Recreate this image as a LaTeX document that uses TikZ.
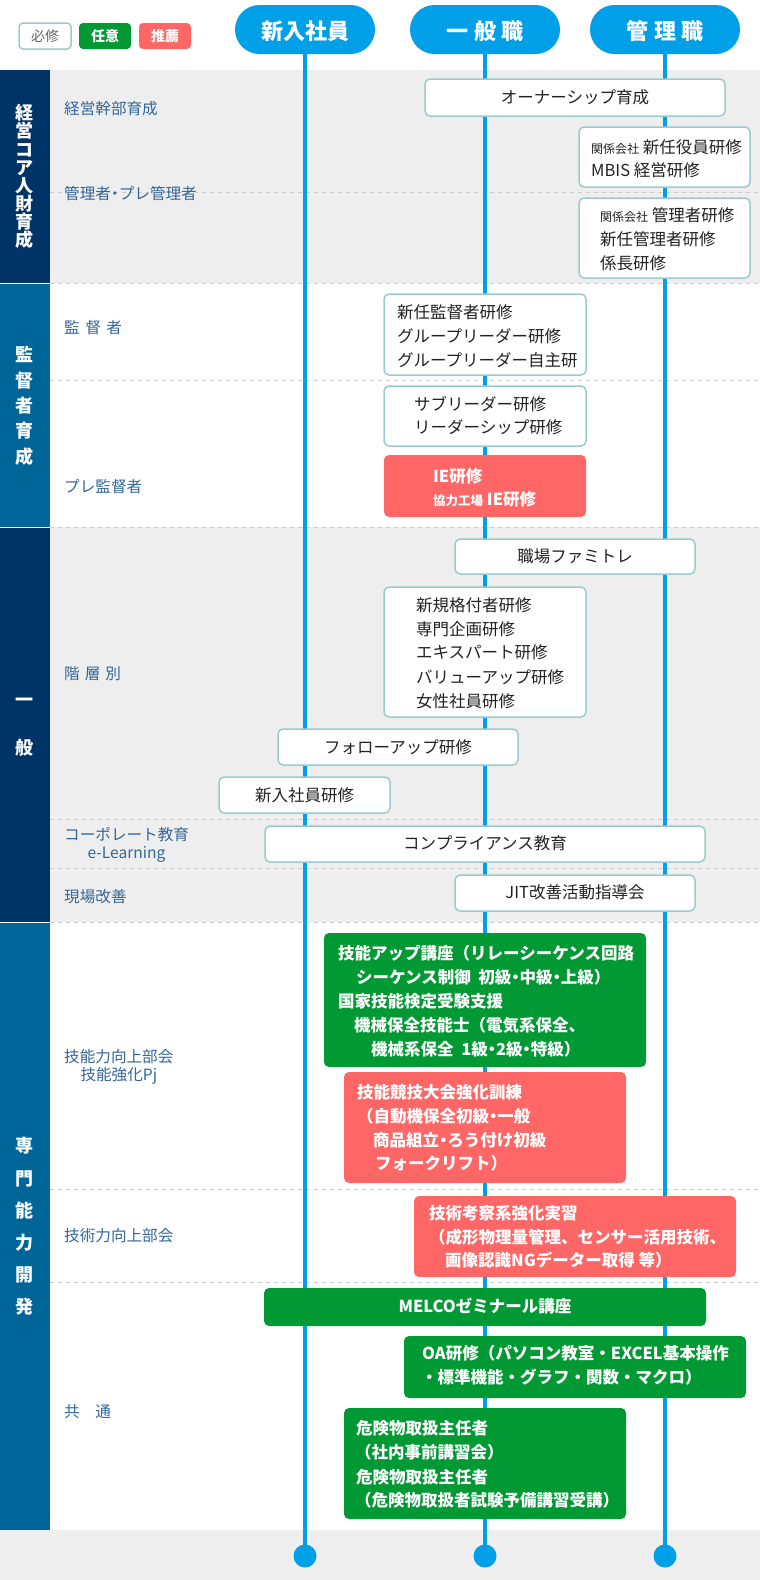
\documentclass[tikz,border=0pt]{standalone}
\usepackage{fontspec}
\setmainfont{Noto Sans CJK JP}
\definecolor{linec}{HTML}{00A0E9}
\definecolor{navyc}{HTML}{003366}
\definecolor{midc}{HTML}{006699}
\definecolor{bgc}{HTML}{EEEEEE}
\definecolor{bordc}{HTML}{99CCCC}
\definecolor{grn}{HTML}{009933}
\definecolor{redc}{HTML}{FF6666}
\definecolor{lblc}{HTML}{336699}
\definecolor{dashc}{HTML}{CCCCCC}
\definecolor{txtc}{HTML}{222222}
\definecolor{legtx}{HTML}{666666}
\newcommand\bx[6]{\node[#1, minimum width={(#5-#3)*1pt}, minimum height={(#6-#4)*1pt}] (#2) at ({(#3+#5)/2},{(#4+#6)/2}) {};}
\newcommand\nd{\kern-0.25em・\kern-0.25em}
\begin{document}
\begin{tikzpicture}[x=1pt,y=-1pt,
  wbox/.style={draw=bordc, line width=1.5pt, fill=white, rounded corners=5pt, inner sep=0pt, outer sep=0pt},
  gbox/.style={fill=grn, rounded corners=5pt, inner sep=0pt, outer sep=0pt},
  rbox/.style={fill=redc, rounded corners=5pt, inner sep=0pt, outer sep=0pt},
  tx/.style={font=\fontsize{16.5}{20}\selectfont, text=txtc, inner sep=0pt, anchor=base west, yshift=-6.3pt},
  txc/.style={tx, anchor=base},
  wt/.style={font=\fontsize{16.5}{20}\selectfont\bfseries, text=white, inner sep=0pt, anchor=base west, yshift=-6.3pt},
  wtc/.style={wt, anchor=base},
  lbfont/.style={font=\fontsize{15.6}{18}\selectfont, text=lblc, inner sep=0pt},
  lb/.style={lbfont, anchor=base west, yshift=-5.9pt},
  vl/.style={font=\fontsize{18}{18}\selectfont\bfseries, text=white, inner sep=0pt, anchor=base, yshift=-6.8pt},
  pill/.style={fill=linec, rounded corners=24.5pt, minimum height=49pt, inner sep=0pt, outer sep=0pt},
  pilltx/.style={font=\fontsize{22}{22}\selectfont\bfseries, text=white, inner sep=0pt, anchor=base, yshift=-8.4pt},
  dot/.style={circle, fill=linec, minimum size=23pt, inner sep=0pt, outer sep=0pt},
  legw/.style={draw=bordc, line width=1.5pt, fill=white, rounded corners=4pt, minimum width=52pt, minimum height=26pt, inner sep=0pt, font=\fontsize{14}{14}\selectfont, text=legtx},
  legg/.style={fill=grn, rounded corners=4pt, minimum width=52pt, minimum height=26pt, inner sep=0pt, font=\fontsize{14}{14}\selectfont\bfseries, text=white},
  legr/.style={legg, fill=redc},
  sepline/.style={dashc, line width=0.8pt, dash pattern=on 4pt off 4pt},
  vline/.style={linec, line width=4pt}
]
\useasboundingbox (0,0) rectangle (760,1580);
% backgrounds
\fill[bgc] (50,70) rectangle (760,283);
\fill[bgc] (50,527) rectangle (760,922);
\fill[bgc] (0,1530) rectangle (760,1580);
\fill[navyc] (0,70) rectangle (50,283);
\fill[midc] (0,283) rectangle (50,527);
\fill[navyc] (0,527) rectangle (50,922);
\fill[midc] (0,922) rectangle (50,1530);
\foreach \yy in {283,527,922} \draw[white, line width=1pt] (0,\yy) -- (50,\yy);
\foreach \yy in {192,283,380,527,819,868,922,1189,1282} \draw[sepline] (50,\yy) -- (760,\yy);
% legend
\node[legw] (lg1) at (45,36) {必修};
\node[legg] (lg2) at (105,36) {任意};
\node[legr] (lg3) at (165,36) {推薦};
% pills, timelines, end dots
\node[pill, minimum width=140pt] (p1) at (305,29.5) {};
\node[pill, minimum width=150pt] (p2) at (485,29.5) {};
\node[pill, minimum width=150pt] (p3) at (665,29.5) {};
\node[pilltx] (p1t) at (305,31.5) {新入社員};
\node[pilltx] (p2t) at (485,31.5) {一\hspace{5.5pt}般\hspace{5.5pt}職};
\node[pilltx] (p3t) at (665,31.5) {管\hspace{5.5pt}理\hspace{5.5pt}職};
\node[dot] (c1) at (305,1556) {};
\node[dot] (c2) at (485,1556) {};
\node[dot] (c3) at (665,1556) {};
\draw[vline] (p1.south) -- (c1.center);
\draw[vline] (p2.south) -- (c2.center);
\draw[vline] (p3.south) -- (c3.center);
% vertical section titles
\foreach \c [count=\i from 0] in {経,営,コ,ア,人,財,育,成} \node[vl] (va\i) at (25,{113+18.1*\i}) {\c};
\foreach \c [count=\i from 0] in {監,督,者,育,成} \node[vl] (vb\i) at (25,{355+25.3*\i}) {\c};
\node[vl] (vc0) at (25,700) {一};
\node[vl] (vc1) at (25,748) {般};
\foreach \c [count=\i from 0] in {専,門,能,力,開,発} \node[vl] (vd\i) at (25,{1146+32.2*\i}) {\c};
% row labels
\node[lb] (l1) at (64,109) {経営幹部育成};
\node[lb] (l2) at (64,194) {管理者\nd プレ管理者};
\node[lb] (l3) at (64,328) {監\hspace{5.5pt}督\hspace{5.5pt}者};
\node[lb] (l4) at (64,487) {プレ監督者};
\node[lb] (l5) at (64,674) {階\hspace{5pt}層\hspace{5pt}別};
\node[lb] (l6a) at (64,835) {コーポレート教育};
\node[lbfont, anchor=base] (l6b) at ([yshift=-18pt]l6a.base) {e-Learning};
\node[lb] (l7) at (64,897) {現場改善};
\node[lb] (l8a) at (64,1057) {技能力向上部会};
\node[lbfont, anchor=base] (l8b) at ([yshift=-18pt]l8a.base) {技能強化Pj};
\node[lb] (l9) at (64,1236) {技術力向上部会};
\node[lb] (l10) at (64,1412) {共　通};
% boxes
\bx{wbox}{b1}{425}{79}{725}{116}
\bx{wbox}{b2}{579}{127}{750}{187}
\bx{wbox}{b3}{579}{198}{750}{278}
\bx{wbox}{b4}{384}{294}{586}{375}
\bx{wbox}{b5}{384}{386}{586}{446}
\bx{rbox}{r1}{384}{455}{586}{517}
\bx{wbox}{b6}{455}{539}{695}{574}
\bx{wbox}{b7}{384}{587}{586}{717}
\bx{wbox}{b8}{278}{729}{518}{765}
\bx{wbox}{b9}{219}{777}{390}{813}
\bx{wbox}{b10}{265}{826}{705}{862}
\bx{wbox}{b11}{455}{875}{695}{911}
\bx{gbox}{g1}{324}{933}{646}{1067}
\bx{rbox}{r2}{344}{1072}{626}{1183}
\bx{rbox}{r3}{414}{1196}{736}{1277}
\bx{gbox}{g2}{264}{1288}{706}{1326}
\bx{gbox}{g3}{404}{1336}{746}{1398}
\bx{gbox}{g4}{344}{1408}{626}{1519}
% box texts
\node[txc] (t1) at (575,97) {オーナーシップ育成};
\node[tx] (t2a) at (591,147) {{\fontsize{12}{12}\selectfont 関係会社} 新任役員研修};
\node[tx] (t2b) at (591,170) {MBIS 経営研修};
\node[tx] (t3a) at (600,215) {{\fontsize{12}{12}\selectfont 関係会社} 管理者研修};
\node[tx] (t3b) at (600,239) {新任管理者研修};
\node[tx] (t3c) at (600,263) {係長研修};
\node[tx] (t4a) at (397,312) {新任監督者研修};
\node[tx] (t4b) at (397,336) {グループリーダー研修};
\node[tx] (t4c) at (397,360) {グループリーダー自主研};
\node[tx] (t5a) at (414,404) {サブリーダー研修};
\node[tx] (t5b) at (414,427) {リーダーシップ研修};
\node[wt] (tr1a) at (433,476) {IE研修};
\node[wt] (tr1b) at (433,499) {{\fontsize{12.5}{12}\selectfont 協力工場} IE研修};
\node[txc] (t6) at (575,556) {職場ファミトレ};
\node[tx] (t7a) at (416,605) {新規格付者研修};
\node[tx] (t7b) at (416,629) {専門企画研修};
\node[tx] (t7c) at (416,652) {エキスパート研修};
\node[tx] (t7d) at (416,677) {バリューアップ研修};
\node[tx] (t7e) at (416,701) {女性社員研修};
\node[txc] (t8) at (398,747) {フォローアップ研修};
\node[txc] (t9) at (304.5,795) {新入社員研修};
\node[txc] (t10) at (485,843) {コンプライアンス教育};
\node[txc] (t11) at (575,892) {JIT改善活動指導会};
\node[wt] (tg1a) at (338,953) {技能アップ講座（リレーシーケンス回路};
\node[wt] (tg1b) at (356,977) {シーケンス制御 \ 初級\nd 中級\nd 上級）};
\node[wt] (tg1c) at (338,1001) {国家技能検定受験支援};
\node[wt] (tg1d) at (354,1025) {機械保全技能士（電気系保全、};
\node[wt] (tg1e) at (371,1049) {機械系保全 \ 1級\nd 2級\nd 特級）};
\node[wt] (tr2a) at (357,1092) {技能競技大会強化訓練};
\node[wt] (tr2b) at (357,1116) {（自動機保全初級\nd 一般};
\node[wt] (tr2c) at (373,1140) {商品組立\nd ろう付け初級};
\node[wt] (tr2d) at (375,1163) {フォークリフト）};
\node[wt] (tr3a) at (429,1213) {技術考察系強化実習};
\node[wt] (tr3b) at (429,1237) {（成形物理量管理、センサー活用技術、};
\node[wt] (tr3c) at (445,1260) {画像認識NGデーター取得 等）};
\node[wtc] (tg2) at (485,1306) {MELCOゼミナール講座};
\node[wt] (tg3a) at (422,1353) {OA研修（パソコン教室・EXCEL基本操作};
\node[wt] (tg3b) at (421,1377) {・標準機能・グラフ・関数・マクロ）};
\node[wt] (tg4a) at (356,1428) {危険物取扱主任者};
\node[wt] (tg4b) at (355,1452) {（社内事前講習会）};
\node[wt] (tg4c) at (356,1477) {危険物取扱主任者};
\node[wt] (tg4d) at (355,1500) {（危険物取扱者試験予備講習受講）};
\end{tikzpicture}
\end{document}
